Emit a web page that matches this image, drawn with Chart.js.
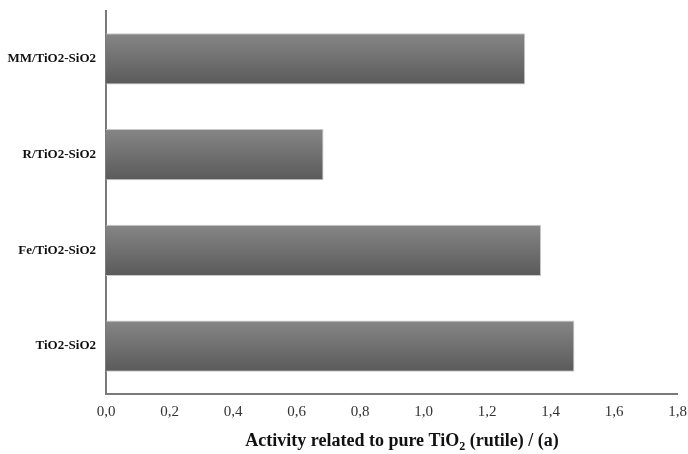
<!DOCTYPE html>
<html>
<head>
<meta charset="utf-8">
<script src="https://cdn.jsdelivr.net/npm/chart.js@4/dist/chart.umd.min.js"></script>
<style>
  html, body { margin: 0; padding: 0; background: #ffffff; }
  #wrap { width: 688px; height: 454px; position: relative; }
</style>
</head>
<body>
<div id="wrap"><canvas id="c"></canvas></div>
<script>
// Samples and their photocatalytic activity relative to pure rutile TiO2
const categories = ['MM/TiO2-SiO2', 'R/TiO2-SiO2', 'Fe/TiO2-SiO2', 'TiO2-SiO2'];
const activity = [1.32, 0.685, 1.37, 1.475];
const xTicks = [0, 0.2, 0.4, 0.6, 0.8, 1.0, 1.2, 1.4, 1.6, 1.8];

const SERIF = '"Liberation Serif", "Times New Roman", serif';
const BAR_PCT = 0.535;

// Vertical grey gradient for each bar, spanning the bar's own thickness
function barGradient(ctx) {
  const chart = ctx.chart;
  const ys = chart.scales && chart.scales.y;
  if (!chart.chartArea || !ys || ctx.dataIndex === undefined) return '#6e6e6e';
  const center = ys.getPixelForValue(ctx.dataIndex);
  const h = (ys.height / categories.length) * BAR_PCT;
  const top = center - h / 2;
  const g = chart.ctx.createLinearGradient(0, top, 0, top + h);
  g.addColorStop(0, '#868686');
  g.addColorStop(1, '#5a5a5a');
  return g;
}

// Axis title with a subscript "2" in TiO2
const axisTitle = {
  id: 'axisTitle',
  afterDraw(chart) {
    const c = chart.ctx;
    const parts = [
      { t: 'Activity related to pure TiO', sub: false },
      { t: '2', sub: true },
      { t: ' (rutile) / (a)', sub: false }
    ];
    const big = 'bold 18px ' + SERIF;
    const small = 'bold 12px ' + SERIF;
    c.save();
    let w = 0;
    parts.forEach(p => { c.font = p.sub ? small : big; w += c.measureText(p.t).width; });
    let x = 402 - w / 2;
    const base = 446;
    c.fillStyle = '#111111';
    c.textBaseline = 'alphabetic';
    c.textAlign = 'left';
    parts.forEach(p => {
      c.font = p.sub ? small : big;
      c.fillText(p.t, x, p.sub ? base + 4 : base);
      x += c.measureText(p.t).width;
    });
    c.restore();
  }
};

new Chart(document.getElementById('c'), {
  type: 'bar',
  data: {
    labels: categories,
    datasets: [{
      data: activity,
      backgroundColor: barGradient,
      borderColor: '#c8c8c8',
      borderWidth: 1,
      borderSkipped: 'left',
      categoryPercentage: 1.0,
      barPercentage: BAR_PCT
    }]
  },
  options: {
    indexAxis: 'y',
    responsive: true,
    maintainAspectRatio: false,
    animation: false,
    layout: { padding: { left: 0, right: 0, top: 11, bottom: 0 } },
    plugins: {
      legend: { display: false },
      tooltip: { enabled: false }
    },
    scales: {
      x: {
        min: 0,
        max: 1.8,
        afterBuildTicks(scale) { scale.ticks = xTicks.map(v => ({ value: v })); },
        afterFit(scale) { scale.height = 60; },
        grid: { display: false },
        border: { display: true, color: '#7a7a7a', width: 2 },
        ticks: {
          padding: 1,
          color: '#333333',
          font: { family: SERIF, size: 15 },
          maxRotation: 0,
          autoSkip: false,
          callback: v => Number(v).toFixed(1).replace('.', ',')
        }
      },
      y: {
        afterFit(scale) { scale.width = 106; },
        grid: { display: false },
        border: { display: true, color: '#7a7a7a', width: 2 },
        ticks: {
          padding: 2,
          color: '#111111',
          font: { family: SERIF, size: 13, weight: 'bold' }
        }
      }
    }
  },
  plugins: [axisTitle]
});
</script>
</body>
</html>
